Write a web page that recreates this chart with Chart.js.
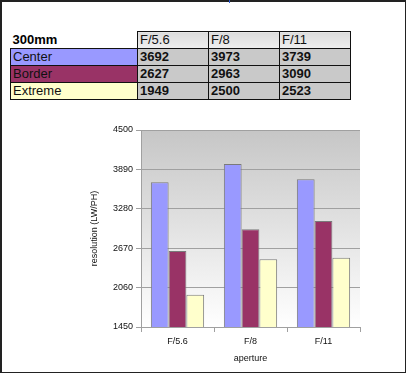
<!DOCTYPE html>
<html>
<head>
<meta charset="utf-8">
<script src="https://cdn.jsdelivr.net/npm/chart.js@4/dist/chart.umd.min.js"></script>
<style>
  html, body { margin: 0; padding: 0; background: #fff; }
  #frame { position: absolute; left: 0; top: 0; width: 406px; height: 373px; box-sizing: border-box; border: 2px solid #222; border-right-width: 1px; border-bottom-width: 1px; }
  #mark { position: absolute; left: 229px; top: 0; width: 1px; height: 3px; background: #2a5bd7; }
  #tbl { position: absolute; left: 10px; top: 31px; border-collapse: collapse; font-family: Arial, "Liberation Sans", sans-serif; }
  #tbl td { height: 16px; padding: 0 0 0 2px; line-height: 16px; border: 1px solid #111; white-space: nowrap; }
  #tbl td.lab { width: 124px; font-size: 13px; color: #111; }
  #tbl td.num { width: 68px; font-size: 13px; font-weight: bold; background: #c9c9c9; color: #111; }
  #tbl td.hd { font-size: 13px; background: linear-gradient(#dcdcdc, #efefef); color: #111; }
  #tbl td.corner { border: none; font-size: 13px; font-weight: bold; }
  #wrap { position: absolute; left: 85px; top: 120px; width: 285px; height: 250px; }
</style>
</head>
<body>
<div id="frame"></div>
<div id="mark"></div>
<table id="tbl"></table>
<div id="wrap"><canvas id="c" width="285" height="250"></canvas></div>
<script>
const tableTitle = '300mm';
const categories = ['F/5.6', 'F/8', 'F/11'];
const seriesNames = ['Center', 'Border', 'Extreme'];
const center = [3692, 3973, 3739];
const border = [2627, 2963, 3090];
const extreme = [1949, 2500, 2523];
const yTicks = [1450, 2060, 2670, 3280, 3890, 4500];
const seriesColors = ['#9999ff', '#993366', '#ffffcc'];

const seriesValues = [center, border, extreme];

// build the table
const tbl = document.getElementById('tbl');
let html = '<tr><td class="corner">' + tableTitle + '</td>';
categories.forEach(c => { html += '<td class="hd">' + c + '</td>'; });
html += '</tr>';
seriesNames.forEach((n, i) => {
  html += '<tr><td class="lab" style="background:' + seriesColors[i] + '">' + n + '</td>';
  seriesValues[i].forEach(v => { html += '<td class="num">' + v + '</td>'; });
  html += '</tr>';
});
tbl.innerHTML = html;

const bgPlugin = {
  id: 'plotBg',
  beforeDraw(chart) {
    const a = chart.chartArea, ctx = chart.ctx;
    const g = ctx.createLinearGradient(0, a.top, 0, a.bottom);
    g.addColorStop(0, '#c6c6c6');
    g.addColorStop(1, '#ffffff');
    ctx.save();
    ctx.fillStyle = g;
    ctx.fillRect(a.left, a.top, a.right - a.left, a.bottom - a.top);
    ctx.restore();
  }
};

const font = { family: 'Arial, "Liberation Sans", sans-serif', size: 9 };

new Chart(document.getElementById('c'), {
  type: 'bar',
  data: {
    labels: categories,
    datasets: seriesNames.map((n, i) => ({
      label: n,
      data: seriesValues[i],
      backgroundColor: seriesColors[i],
      borderColor: '#7a7a7a',
      borderWidth: 1,
      categoryPercentage: 0.73,
      barPercentage: 1
    }))
  },
  options: {
    responsive: false,
    animation: false,
    devicePixelRatio: 1,
    layout: { padding: { top: 10, right: 10, left: 0, bottom: 0 } },
    plugins: { legend: { display: false }, tooltip: { enabled: false } },
    scales: {
      y: {
        min: yTicks[0],
        max: yTicks[yTicks.length - 1],
        afterBuildTicks(s) { s.ticks = yTicks.map(v => ({ value: v })); },
        afterFit(s) { s.width = 56; },
        grid: { color: '#a0a0a0', tickLength: 5, drawTicks: true },
        border: { color: '#a0a0a0' },
        ticks: { font, color: '#111', padding: 3, callback: v => String(v) },
        title: { display: true, text: 'resolution (LW/PH)', font, color: '#111', padding: { top: 4, bottom: 0 } }
      },
      x: {
        afterFit(s) { s.height = 43; },
        grid: { offset: true, drawOnChartArea: false, color: '#a0a0a0', tickLength: 5 },
        border: { color: '#a0a0a0' },
        ticks: { font, color: '#111', padding: 4 },
        title: { display: true, text: 'aperture', font, color: '#111', padding: { top: 4, bottom: 6 } }
      }
    }
  },
  plugins: [bgPlugin]
});
</script>
</body>
</html>
